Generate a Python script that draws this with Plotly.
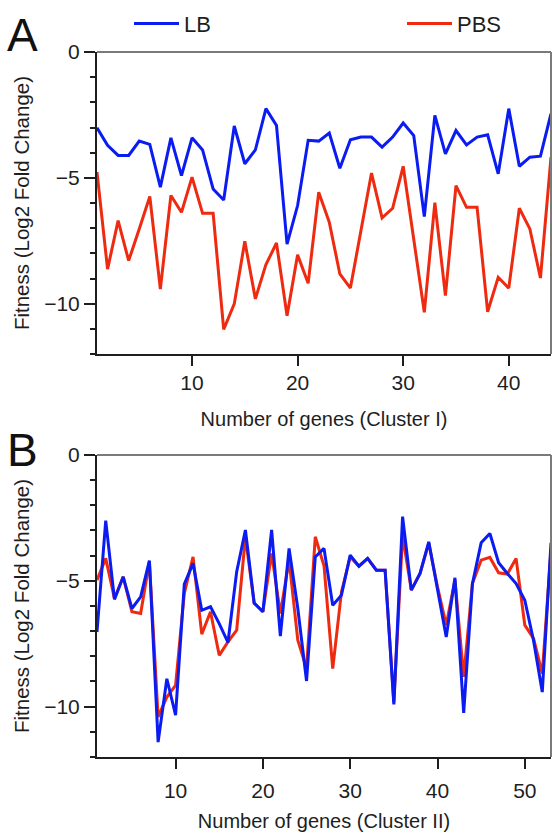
import plotly.graph_objects as go

# ---------------- data ----------------
genes_A = list(range(1, 45))
lb_A = [-3.01, -3.71, -4.11, -4.11, -3.54, -3.67, -5.37, -3.41, -4.91, -3.41,
        -3.89, -5.44, -5.88, -2.94, -4.44, -3.89, -2.25, -2.92, -7.63, -6.10,
        -3.51, -3.54, -3.22, -4.62, -3.49, -3.38, -3.38, -3.78, -3.38, -2.82,
        -3.32, -6.54, -2.52, -4.05, -3.12, -3.69, -3.38, -3.29, -4.84, -2.25,
        -4.54, -4.18, -4.14, -2.45]
pbs_A = [-4.77, -8.63, -6.70, -8.29, -7.03, -5.74, -9.42, -5.70, -6.37, -4.97,
         -6.41, -6.41, -11.02, -10.01, -7.52, -9.81, -8.45, -7.59, -10.48, -8.06,
         -9.19, -5.57, -6.76, -8.82, -9.38, -7.10, -4.81, -6.59, -6.21, -4.54,
         -7.36, -10.34, -5.99, -9.68, -5.31, -6.17, -6.17, -10.32, -8.95, -9.38,
         -6.21, -7.03, -8.98, -4.18]

genes_B = list(range(1, 54))
lb_B = [-7.03, -2.61, -5.74, -4.84, -6.10, -5.64, -4.20, -11.41, -8.89, -10.34,
        -5.13, -4.31, -6.17, -6.03, -6.70, -7.45, -4.64, -2.98, -5.88, -6.23,
        -2.98, -7.20, -3.71, -6.10, -8.98, -4.05, -3.71, -5.97, -5.57, -3.98,
        -4.42, -4.11, -4.58, -4.58, -9.91, -2.45, -5.37, -4.71, -3.45, -5.31,
        -7.23, -4.88, -10.25, -5.11, -3.49, -3.12, -4.28, -4.71, -5.11, -5.77,
        -7.37, -9.42, -3.49]
pbs_B = [-4.97, -4.11, -5.70, -4.84, -6.23, -6.30, -4.24, -10.41, -9.62, -9.15,
         -5.50, -4.05, -7.12, -6.23, -7.96, -7.43, -6.96, -3.25, -5.88, -6.23,
         -3.91, -6.30, -4.18, -7.36, -8.49, -3.25, -4.40, -8.49, -5.44, -4.05,
         -4.42, -4.11, -4.58, -4.58, -9.81, -3.20, -5.37, -4.71, -3.51, -5.24,
         -6.76, -4.97, -8.82, -5.11, -4.18, -4.07, -4.68, -4.73, -4.11, -6.76,
         -7.29, -8.69, -3.78]

y_ticks = [0, -5, -10]
x_ticks_A = [10, 20, 30, 40]
x_ticks_B = [10, 20, 30, 40, 50]

BLUE = "#0b1cf2"
RED = "#ee2a10"
FONT = "Liberation Sans, Arial, sans-serif"
TXT = "#1e1e1e"

fig = go.Figure()
fig.add_trace(go.Scatter(x=genes_A, y=lb_A, mode="lines", name="LB", legend="legend",
                         line=dict(color=BLUE, width=3), xaxis="x", yaxis="y"))
fig.add_trace(go.Scatter(x=genes_A, y=pbs_A, mode="lines", name="PBS", legend="legend2",
                         line=dict(color=RED, width=3), xaxis="x", yaxis="y"))
fig.add_trace(go.Scatter(x=genes_B, y=pbs_B, mode="lines", name="PBS",
                         line=dict(color=RED, width=3), xaxis="x2", yaxis="y2",
                         showlegend=False))
fig.add_trace(go.Scatter(x=genes_B, y=lb_B, mode="lines", name="LB",
                         line=dict(color=BLUE, width=3), xaxis="x2", yaxis="y2",
                         showlegend=False))

def xax(rng, ticks, title, anchor, lab_off, title_off):
    return dict(range=rng, tickvals=ticks, ticks="outside", ticklen=10, tickwidth=2,
                tickcolor=TXT, showline=True, linecolor=TXT, linewidth=2,
                showgrid=False, zeroline=False, anchor=anchor,
                tickfont=dict(size=21, color=TXT, family=FONT),
                ticklabelstandoff=lab_off,
                title=dict(text=title, font=dict(size=20, color=TXT, family=FONT),
                           standoff=title_off))

def yax(domain, anchor):
    return dict(range=[-12, 0], domain=domain, tickvals=y_ticks, ticks="outside",
                ticklen=11, tickwidth=2, tickcolor=TXT,
                minor=dict(dtick=1, tick0=0, ticks="outside", ticklen=5,
                           tickwidth=1.5, tickcolor=TXT, showgrid=False),
                showline=True, linecolor=TXT, linewidth=2, showgrid=False,
                zeroline=False, anchor=anchor,
                tickfont=dict(size=21, color=TXT, family=FONT),
                title=dict(text="Fitness (Log2 Fold Change)",
                           font=dict(size=20.5, color=TXT, family=FONT), standoff=9))

leg_common = dict(orientation="h", yanchor="middle", xanchor="left", itemwidth=45,
                  font=dict(size=22, color=TXT, family=FONT),
                  bgcolor="rgba(0,0,0,0)")

fig.update_layout(
    width=552, height=833,
    margin=dict(l=97, r=1, t=52, b=76),
    paper_bgcolor="white", plot_bgcolor="white",
    xaxis=xax([1, 44], x_ticks_A, "Number of genes (Cluster I)", "y", -1, 19),
    yaxis=yax([0.5716, 1.0], "x"),
    xaxis2=xax([1, 53], x_ticks_B, "Number of genes (Cluster II)", "y2", 4, 13),
    yaxis2=yax([0.0, 0.4284], "x2"),
    legend=dict(x=(129 - 97) / 454, y=1.04, **leg_common),
    legend2=dict(x=(402 - 97) / 454, y=1.04, **leg_common),
    showlegend=True,
)

# gray top/right frame lines
for xr, yr in (("x domain", "y domain"), ("x2 domain", "y2 domain")):
    fig.add_shape(type="line", xref=xr, yref=yr, x0=0, x1=1, y0=1, y1=1,
                  line=dict(color="#7a7a7a", width=2))
    fig.add_shape(type="line", xref=xr, yref=yr, x0=1, x1=1, y0=0, y1=1,
                  line=dict(color="#7a7a7a", width=2))

# panel letters
for letter, yp in (("A", 1.024), ("B", 0.4355)):
    fig.add_annotation(text=letter, xref="paper", yref="paper", x=-0.165, y=yp,
                       xanchor="center", yanchor="middle", showarrow=False,
                       font=dict(size=46, color="#111", family=FONT))

fig.write_html("out.html")
